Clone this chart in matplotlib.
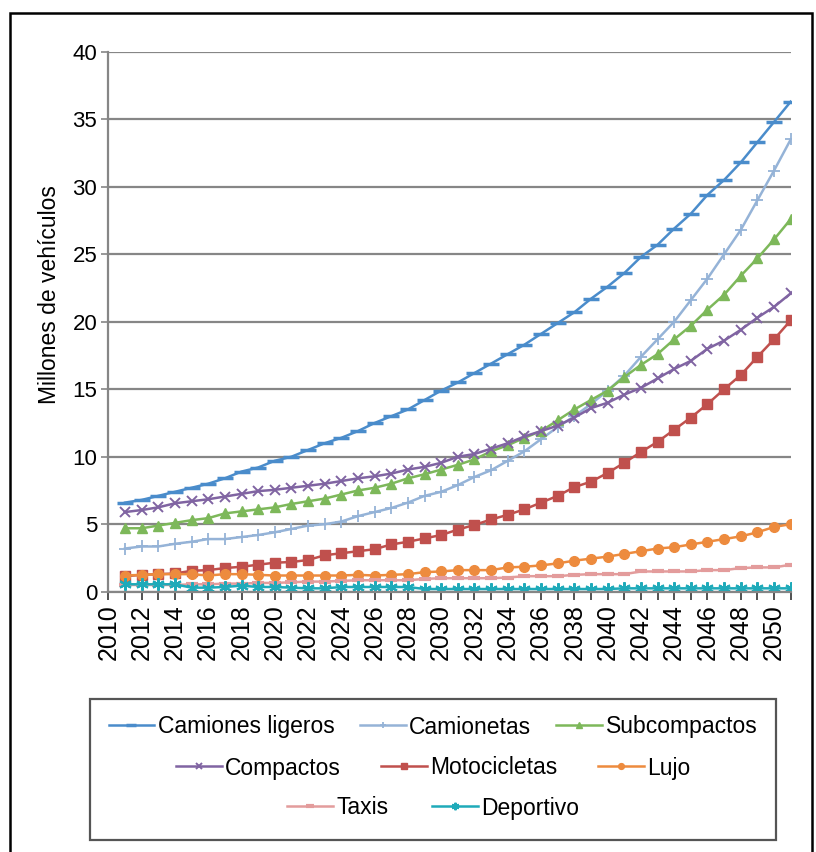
import matplotlib.pyplot as plt
from matplotlib.patches import Rectangle
from matplotlib.ticker import MultipleLocator

plt.rcParams['font.family'] = ['Liberation Sans', 'DejaVu Sans']

years = list(range(2011, 2052))

camiones_ligeros = [6.6, 6.8, 7.1, 7.4, 7.7, 8.0, 8.4, 8.9, 9.2, 9.7,
                    10.0, 10.5, 11.0, 11.4, 11.9, 12.5, 13.0, 13.5, 14.2, 14.9,
                    15.5, 16.2, 16.9, 17.6, 18.3, 19.1, 19.9, 20.7, 21.7, 22.6,
                    23.6, 24.8, 25.7, 26.9, 28.0, 29.4, 30.5, 31.8, 33.3, 34.8, 36.3]
camionetas = [3.2, 3.35, 3.35, 3.55, 3.7, 3.9, 3.9, 4.05, 4.2, 4.4,
              4.65, 4.9, 5.0, 5.2, 5.6, 5.9, 6.2, 6.6, 7.1, 7.4,
              7.9, 8.5, 9.0, 9.7, 10.4, 11.3, 12.2, 13.0, 13.9, 14.9,
              16.0, 17.4, 18.7, 20.0, 21.6, 23.2, 25.0, 26.8, 29.0, 31.2, 33.5]
subcompactos = [4.7, 4.7, 4.9, 5.1, 5.3, 5.45, 5.8, 5.95, 6.1, 6.25,
                6.5, 6.7, 6.9, 7.2, 7.5, 7.7, 8.0, 8.4, 8.7, 9.05,
                9.4, 9.8, 10.4, 10.85, 11.4, 11.9, 12.7, 13.5, 14.2, 14.9,
                15.9, 16.8, 17.6, 18.7, 19.7, 20.9, 22.0, 23.4, 24.7, 26.1, 27.6]
compactos = [5.9, 6.05, 6.25, 6.55, 6.7, 6.85, 7.05, 7.25, 7.45, 7.55,
             7.7, 7.85, 8.0, 8.2, 8.4, 8.55, 8.75, 9.05, 9.25, 9.55,
             10.0, 10.2, 10.6, 11.0, 11.5, 11.9, 12.3, 12.9, 13.6, 14.0,
             14.6, 15.1, 15.8, 16.5, 17.1, 18.0, 18.6, 19.4, 20.3, 21.1, 22.1]
motocicletas = [1.15, 1.25, 1.3, 1.35, 1.55, 1.6, 1.75, 1.85, 2.0, 2.15,
                2.2, 2.35, 2.7, 2.85, 3.0, 3.15, 3.5, 3.7, 3.95, 4.2,
                4.6, 4.95, 5.35, 5.7, 6.1, 6.6, 7.1, 7.75, 8.15, 8.8,
                9.55, 10.35, 11.1, 12.0, 12.9, 13.9, 15.0, 16.05, 17.4, 18.7, 20.1]
lujo = [1.2, 1.25, 1.3, 1.3, 1.3, 1.2, 1.3, 1.3, 1.25, 1.2,
        1.2, 1.2, 1.2, 1.2, 1.25, 1.2, 1.25, 1.3, 1.45, 1.5,
        1.6, 1.6, 1.6, 1.8, 1.85, 1.95, 2.1, 2.3, 2.45, 2.6,
        2.8, 3.0, 3.2, 3.3, 3.5, 3.7, 3.9, 4.1, 4.4, 4.8, 5.0]
taxis = [0.5, 0.5, 0.5, 0.5, 0.55, 0.55, 0.6, 0.6, 0.65, 0.65,
         0.7, 0.75, 0.75, 0.8, 0.85, 0.85, 0.85, 0.85, 0.95, 1.0,
         1.0, 1.0, 1.0, 1.05, 1.15, 1.15, 1.15, 1.25, 1.3, 1.3,
         1.3, 1.5, 1.5, 1.5, 1.5, 1.6, 1.6, 1.75, 1.8, 1.8, 2.0]
deportivo = [0.55, 0.55, 0.55, 0.55, 0.3, 0.3, 0.35, 0.45, 0.35, 0.35,
             0.3, 0.25, 0.25, 0.35, 0.35, 0.35, 0.35, 0.35, 0.2, 0.2,
             0.2, 0.2, 0.2, 0.2, 0.2, 0.2, 0.2, 0.2, 0.2, 0.2,
             0.25, 0.25, 0.25, 0.25, 0.25, 0.25, 0.25, 0.25, 0.25, 0.25, 0.25]

series = [
    ("Camiones ligeros", camiones_ligeros, '#4A8CCB', dict(marker='_', ms=11, mew=2.5)),
    ("Camionetas", camionetas, '#95B3D7', dict(marker='+', ms=8, mew=1.3)),
    ("Subcompactos", subcompactos, '#7DB85A', dict(marker='^', ms=7)),
    ("Compactos", compactos, '#8064A2', dict(marker='x', ms=7, mew=1.4)),
    ("Motocicletas", motocicletas, '#C0504D', dict(marker='s', ms=7)),
    ("Lujo", lujo, '#ED8B3E', dict(marker='o', ms=7)),
    ("Taxis", taxis, '#E39C9C', dict(marker='_', ms=9, mew=3)),
    ("Deportivo", deportivo, '#1FAAB9', dict(marker=(6, 2, 0), ms=9, mew=1.5)),
]

fig = plt.figure(figsize=(8.16, 8.52), dpi=100)
ax = fig.add_axes([0.1328, 0.3055, 0.8362, 0.6338])

handles = {}
for name, vals, color, mk in series:
    line, = ax.plot(years, vals, color=color, lw=1.8, mfc=color, mec=color,
                    label=name, **mk)
    handles[name] = line

ax.set_xlim(2010, 2051)
ax.set_ylim(0, 40)
ax.yaxis.set_major_locator(MultipleLocator(5))
ax.set_xticks(range(2010, 2051, 2))
ax.xaxis.set_minor_locator(MultipleLocator(1))
ax.tick_params(axis='x', which='both', rotation=90, direction='out',
               length=6, width=1.2, color='#333333', labelsize=18, pad=3)
ax.tick_params(axis='y', direction='out', length=5, width=1.2,
               color='#868686', labelsize=16, pad=3)
ax.grid(axis='y', color='#868686', lw=1.6)
ax.set_axisbelow(True)
for s in ['top', 'right']:
    ax.spines[s].set_visible(False)
ax.spines['left'].set_color('#868686')
ax.spines['left'].set_linewidth(1.6)
ax.spines['bottom'].set_color('#868686')
ax.spines['bottom'].set_linewidth(1.6)
ax.set_ylabel('Millones de vehículos', fontsize=16.5)
ax.yaxis.set_label_coords(-0.069, 0.55)

# legend rows centred like the original
rows = [["Camiones ligeros", "Camionetas", "Subcompactos"],
        ["Compactos", "Motocicletas", "Lujo"],
        ["Taxis", "Deportivo"]]
row_y = [727, 768, 808]
row_gap = [1.1, 1.75, 1.9]
for names, y, gap in zip(rows, row_y, row_gap):
    fig.legend([handles[n] for n in names], names, loc='center',
               bbox_to_anchor=(433 / 816, 1 - y / 852), ncol=len(names),
               frameon=False, fontsize=16.5, handlelength=2.0,
               handletextpad=0.15, columnspacing=gap, borderpad=0,
               markerscale=0.6)

fig.add_artist(Rectangle((90 / 816, 1 - 840 / 852), 686 / 816, 141 / 852,
                         transform=fig.transFigure, fill=False,
                         edgecolor='#555555', lw=1.6))
# outer frame
fig.add_artist(Rectangle((10 / 816, -0.05), 802 / 816, 1.05 - 13 / 852,
                         transform=fig.transFigure, fill=False,
                         edgecolor='black', lw=1.8))

fig.savefig('out.png', dpi=100)
